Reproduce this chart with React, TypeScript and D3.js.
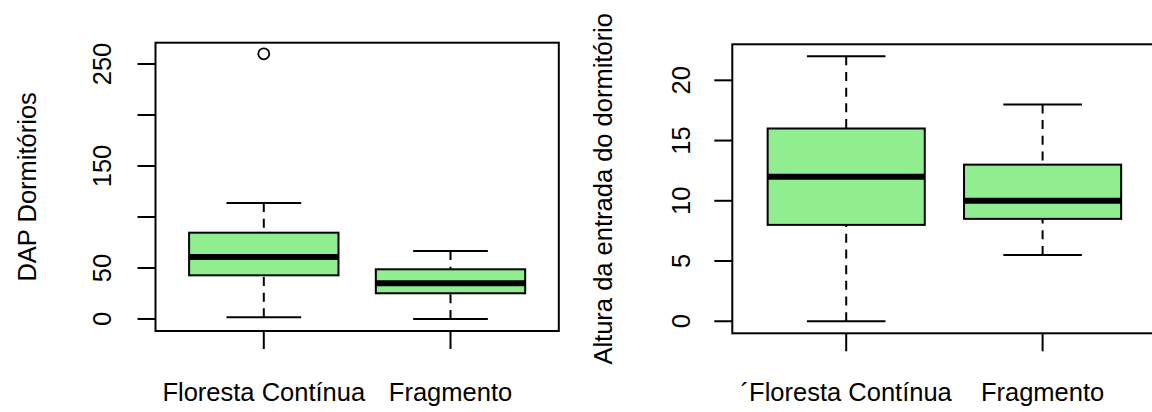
import React from 'react';
import * as d3 from 'd3';

// categories on the x axis
const categories = ['Floresta Contínua', 'Fragmento'];
const categoriesRight = ['´Floresta Contínua', 'Fragmento'];

// DAP Dormitórios (left panel) box stats
const dapLow = [1.6, 0];
const dapQ1 = [42.8, 25.2];
const dapMedian = [60.8, 35];
const dapQ3 = [84.6, 48.7];
const dapHigh = [113.7, 66.7];
const dapOutliers = [[260], []];
const dapTicks = [0, 50, 100, 150, 200, 250];
const dapTickLabels = [0, 50, 150, 250];

// Altura da entrada do dormitório (right panel) box stats
const altLow = [0, 5.5];
const altQ1 = [8, 8.5];
const altMedian = [12, 10];
const altQ3 = [16, 13];
const altHigh = [22, 18];
const altOutliers = [[], []];
const altTicks = [0, 5, 10, 15, 20];
const altTickLabels = [0, 5, 10, 15, 20];

const FONT = '"Liberation Sans", Arial, sans-serif';
const FS = 25.5;

interface PanelProps {
    labels: string[];
    low: number[];
    q1: number[];
    median: number[];
    q3: number[];
    high: number[];
    outliers: number[][];
    ticks: number[];
    tickLabels: number[];
    yDomain: [number, number];
    ylab: string;
    left: number;
    right: number;
    top: number;
    bottom: number;
    tickLabelX: number;
    ylabX: number;
}

const Panel: React.FC<PanelProps> = (p) => {
    const x = d3.scaleLinear().domain([0.42, 2.58]).range([p.left, p.right]);
    const y = d3.scaleLinear().domain(p.yDomain).range([p.bottom, p.top]);
    const boxW = x(1.4) - x(1);
    const capW = x(1.2) - x(1);
    const tickLen = 18;
    const midY = (p.top + p.bottom) / 2;

    return (
        <g>
            {p.labels.map((_, i) => {
                const cx = x(i + 1);
                return (
                    <g key={i}>
                        {/* whiskers drawn from the end toward the box, like R */}
                        <line x1={cx} x2={cx} y1={y(p.high[i])} y2={y(p.q3[i])}
                              stroke="#000" strokeWidth={2} strokeDasharray="9,6.7" />
                        <line x1={cx} x2={cx} y1={y(p.low[i])} y2={y(p.q1[i])}
                              stroke="#000" strokeWidth={2} strokeDasharray="9,6.7" />
                        <line x1={cx - capW} x2={cx + capW} y1={y(p.high[i])} y2={y(p.high[i])}
                              stroke="#000" strokeWidth={2} />
                        <line x1={cx - capW} x2={cx + capW} y1={y(p.low[i])} y2={y(p.low[i])}
                              stroke="#000" strokeWidth={2} />
                        <rect x={cx - boxW} y={y(p.q3[i])} width={boxW * 2}
                              height={y(p.q1[i]) - y(p.q3[i])}
                              fill="#90EE90" stroke="#000" strokeWidth={2} />
                        <line x1={cx - boxW} x2={cx + boxW} y1={y(p.median[i])} y2={y(p.median[i])}
                              stroke="#000" strokeWidth={6} />
                        {p.outliers[i].map((o, j) => (
                            <circle key={j} cx={cx} cy={y(o)} r={5.5}
                                    fill="none" stroke="#000" strokeWidth={1.8} />
                        ))}
                        <line x1={cx} x2={cx} y1={p.bottom} y2={p.bottom + tickLen}
                              stroke="#000" strokeWidth={2} />
                        <text x={cx} y={401} textAnchor="middle" fontSize={FS}
                              fontFamily={FONT} fill="#000">{p.labels[i]}</text>
                    </g>
                );
            })}
            {p.ticks.map(t => (
                <line key={t} x1={p.left - tickLen} x2={p.left} y1={y(t)} y2={y(t)}
                      stroke="#000" strokeWidth={2} />
            ))}
            {p.tickLabels.map(t => (
                <text key={t} transform={`translate(${p.tickLabelX},${y(t)}) rotate(-90)`}
                      textAnchor="middle" fontSize={FS} fontFamily={FONT} fill="#000">{t}</text>
            ))}
            <rect x={p.left} y={p.top} width={p.right - p.left} height={p.bottom - p.top}
                  fill="none" stroke="#000" strokeWidth={2} />
            <text transform={`translate(${p.ylabX},${midY}) rotate(-90)`}
                  textAnchor="middle" fontSize={FS} fontFamily={FONT} fill="#000">{p.ylab}</text>
        </g>
    );
};

export default function App() {
    return (
        <svg width={1152} height={412} style={{position: 'absolute', left: 0, top: 0, background: '#fff'}}>
            <rect width={1152} height={412} fill="#fff" />
            <Panel labels={categories} low={dapLow} q1={dapQ1} median={dapMedian} q3={dapQ3}
                   high={dapHigh} outliers={dapOutliers} ticks={dapTicks} tickLabels={dapTickLabels}
                   yDomain={[-11.8, 270.9]} ylab="DAP Dormitórios"
                   left={155.5} right={558.8} top={42.7} bottom={331} tickLabelX={111} ylabX={36} />
            <Panel labels={categoriesRight} low={altLow} q1={altQ1} median={altMedian} q3={altQ3}
                   high={altHigh} outliers={altOutliers} ticks={altTicks} tickLabels={altTickLabels}
                   yDomain={[-1.0, 22.99]} ylab="Altura da entrada do dormitório"
                   left={732.3} right={1156.5} top={44.3} bottom={333.3} tickLabelX={689.5} ylabX={612} />
        </svg>
    );
}
